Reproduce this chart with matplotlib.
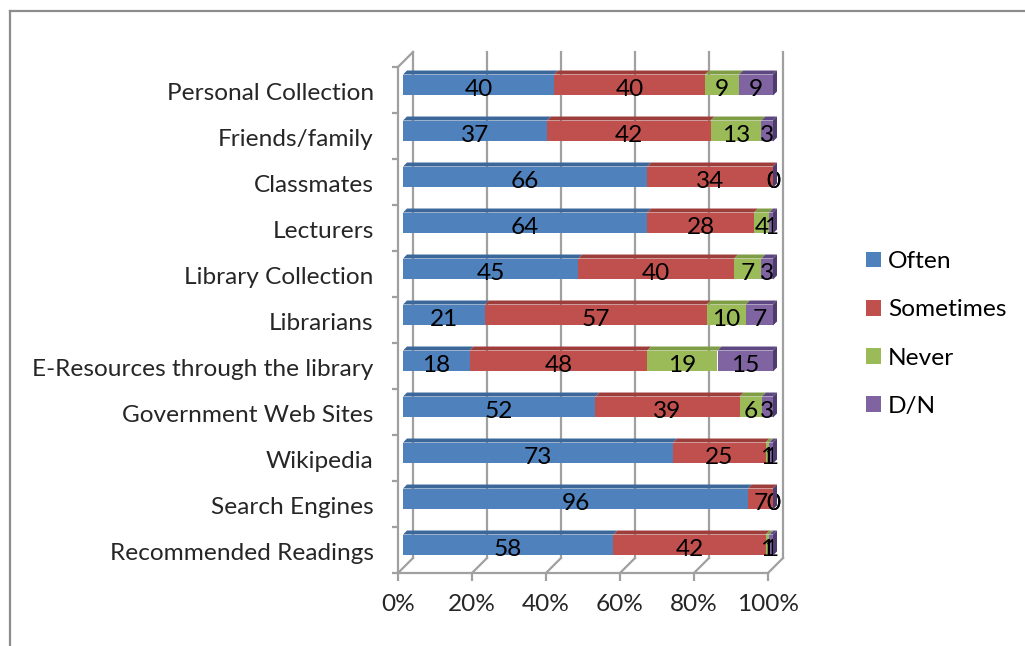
import matplotlib
matplotlib.use("Agg")
import matplotlib.pyplot as plt
from matplotlib.patches import Polygon, Patch
from matplotlib.lines import Line2D
from matplotlib.transforms import ScaledTranslation, IdentityTransform
from matplotlib.markers import TICKLEFT, TICKDOWN
import numpy as np

categories = ["Personal Collection", "Friends/family", "Classmates", "Lecturers",
              "Library Collection", "Librarians", "E-Resources through the library",
              "Government Web Sites", "Wikipedia", "Search Engines", "Recommended Readings"]
often = [40, 37, 66, 64, 45, 21, 18, 52, 73, 96, 58]
sometimes = [40, 42, 34, 28, 40, 57, 48, 39, 25, 7, 42]
never = [9, 13, 0, 4, 7, 10, 19, 6, 1, 0, 1]
dn = [9, 3, 0, 1, 3, 7, 15, 3, 1, 0, 1]
series_names = ["Often", "Sometimes", "Never", "D/N"]
x_ticks = [0, 20, 40, 60, 80, 100]

colors = ["#4F81BD", "#C0504D", "#9BBB59", "#8064A2"]
top_colors = ["#3C679A", "#9E3E3B", "#7F9D45", "#5E4882"]
side_color = "#4F3C6E"
frame_color = "#A0A0A0"
font = "Lato"
fs = 17.6

W, H = 1025, 646
fig = plt.figure(figsize=(W / 100, H / 100), dpi=100)
# axes = the plane of the bar front faces
ax = fig.add_axes([403 / W, 1 - 568 / H, 370 / W, 506 / H])
ax.set_xlim(0, 1)
ax.set_ylim(10.5, -0.5)
for s in ax.spines.values():
    s.set_visible(False)
ax.patch.set_visible(False)

px = fig.dpi_scale_trans
front = ax.transData + ScaledTranslation(-5 / 100, -5 / 100, px)
back = ax.transData + ScaledTranslation(10 / 100, 10 / 100, px)


def disp(x, y, tr, dx=0, dy=0):
    p = tr.transform((x, y))
    return p[0] + dx, p[1] + dy


def seg(p, q, **kw):
    fig.add_artist(Line2D([p[0], q[0]], [p[1], q[1]], transform=IdentityTransform(),
                          color=frame_color, lw=1.6, **kw))


# back wall gridlines and floor
y_lo, y_hi = 10.5, -0.5
for t in x_ticks:
    x = t / 100
    ax.plot([x, x], [y_lo, y_hi], transform=back, color=frame_color, lw=1.6, clip_on=False)
    seg(disp(x, y_lo, front), disp(x, y_lo, back))
    ax.plot([x], [y_lo], transform=front, marker=TICKDOWN, ms=6, mew=1.6,
            color=frame_color, clip_on=False)
# front wall edges
ax.plot([0, 0], [y_lo, y_hi], transform=front, color=frame_color, lw=1.6, clip_on=False)
ax.plot([0, 1], [y_lo, y_lo], transform=front, color=frame_color, lw=1.6, clip_on=False)
seg(disp(0, y_hi, front), disp(0, y_hi, back))
for b in np.arange(-0.5, 11, 1.0):
    ax.plot([0], [b], transform=front, marker=TICKLEFT, ms=4.5, mew=1.6,
            color=frame_color, clip_on=False)

# stacked bars, 100 %
data = np.array([often, sometimes, never, dn], dtype=float)
shares = data / data.sum(axis=0)
ypos = np.arange(len(categories))
h = 0.456
d = 4
left = np.zeros(len(categories))
for k in range(4):
    w = shares[k]
    ax.barh(ypos, w, left=left, height=h, color=colors[k], zorder=3)
    for i in range(len(categories)):
        a = disp(left[i], ypos[i] - h / 2, ax.transData)
        b = disp(left[i] + w[i], ypos[i] - h / 2, ax.transData)
        poly = Polygon([a, b, (b[0] + d, b[1] + d), (a[0] + d, a[1] + d)],
                       closed=True, transform=IdentityTransform(),
                       facecolor=top_colors[k], edgecolor="none", zorder=3)
        fig.add_artist(poly)
    left = left + w

for i in range(len(categories)):
    a = disp(1, ypos[i] - h / 2, ax.transData)
    b = disp(1, ypos[i] + h / 2, ax.transData)
    fig.add_artist(Polygon([a, b, (b[0] + d, b[1] + d), (a[0] + d, a[1] + d)],
                           closed=True, transform=IdentityTransform(),
                           facecolor=side_color, edgecolor="none", zorder=3))

# data labels
lab_tr = ax.transData + ScaledTranslation(0, -5 / 100, px)
left = np.zeros(len(categories))
for k in range(4):
    for i in range(len(categories)):
        ax.text(left[i] + shares[k][i] / 2, ypos[i], "%d" % data[k][i], transform=lab_tr,
                ha="center", va="center", fontsize=fs, family=font, color="black", zorder=5)
    left = left + shares[k]

# axis tick labels
ax.set_yticks(ypos)
ax.set_yticklabels(categories, fontsize=fs, family=font, color="#262626")
ax.tick_params(axis="y", length=0, pad=21)
for lbl in ax.get_yticklabels():
    lbl.set_transform(lbl.get_transform() + ScaledTranslation(0, -6 / 100, px))
ax.set_xticks([t / 100 for t in x_ticks])
ax.set_xticklabels(["%d%%" % t for t in x_ticks], fontsize=fs, family=font, color="#262626")
ax.tick_params(axis="x", length=0, pad=19)
for lbl in ax.get_xticklabels():
    lbl.set_transform(lbl.get_transform() + ScaledTranslation(-5 / 100, 0, px))

# legend
handles = [Patch(facecolor=c, edgecolor="none") for c in colors]
fig.legend(handles, series_names, loc="center left", bbox_to_anchor=(844 / W, 1 - 334 / H),
           frameon=False, handlelength=0.6, handleheight=0.6, handletextpad=0.3,
           labelspacing=1.11, prop={"family": font, "size": fs})

# outer border
fig.add_artist(Line2D([10 / W, 1], [1 - 11 / H, 1 - 11 / H], transform=fig.transFigure,
                      color="#8C8C8C", lw=1.6))
fig.add_artist(Line2D([10 / W, 10 / W], [0, 1 - 11 / H], transform=fig.transFigure,
                      color="#8C8C8C", lw=1.6))

fig.savefig("out.png", dpi=100)
